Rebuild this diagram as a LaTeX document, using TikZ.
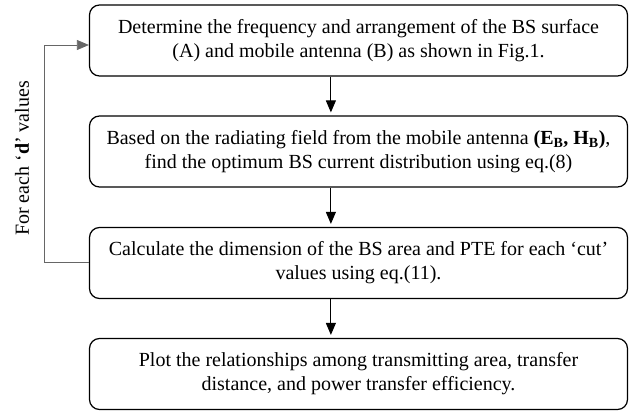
\documentclass[tikz,border=0pt]{standalone}
\usepackage{fontspec}
\setmainfont{Liberation Serif}
\usetikzlibrary{arrows.meta}

\tikzset{
  stepbox/.style={draw, line width=1.2pt, rounded corners=10pt, minimum width=538pt,
    minimum height=71pt, align=center, font=\fontsize{20}{24}\selectfont},
  flow/.style={line width=1pt, -{Triangle[length=12pt,width=10pt]}, shorten >=3pt},
  loopline/.style={draw=gray!80!black, line width=0.8pt, -{Triangle[length=12pt,width=10pt]}}
}

\begin{document}
\begin{tikzpicture}[x=1pt,y=-1pt]
    \useasboundingbox (0,0) rectangle (631,412);

    \node[stepbox] (det) at (358.5,40.5) {Determine the frequency and arrangement of the BS surface\\(A) and mobile antenna (B) as shown in Fig.1.};
    \node[stepbox] (opt) at (358.5,151.5) {Based on the radiating field from the mobile antenna \textbf{(E\textsubscript{B}, H\textsubscript{B})},\\find the optimum BS current distribution using eq.(8)};
    \node[stepbox] (calc) at (358.5,263) {Calculate the dimension of the BS area and PTE for each `cut'\\values using eq.(11).};
    \node[stepbox] (plot) at (358.5,374) {Plot the relationships among transmitting area, transfer\\distance, and power transfer efficiency.};

    \draw [flow] ([xshift=242pt]det.south west) -- ([xshift=242pt]opt.north west);
    \draw [flow] ([xshift=242pt]opt.south west) -- ([xshift=242pt]calc.north west);
    \draw [flow] ([xshift=242pt]calc.south west) -- ([xshift=242pt]plot.north west);

    \coordinate (lp) at (44,262);
    \draw [loopline] (calc.west |- lp) -- (lp) -- (lp |- 0,45) -- (det.west |- 0,45);
    \node[rotate=90, font=\fontsize{20}{24}\selectfont] (each) at (22,158.5) {For each `\textbf{d}' values};
\end{tikzpicture}
\end{document}
